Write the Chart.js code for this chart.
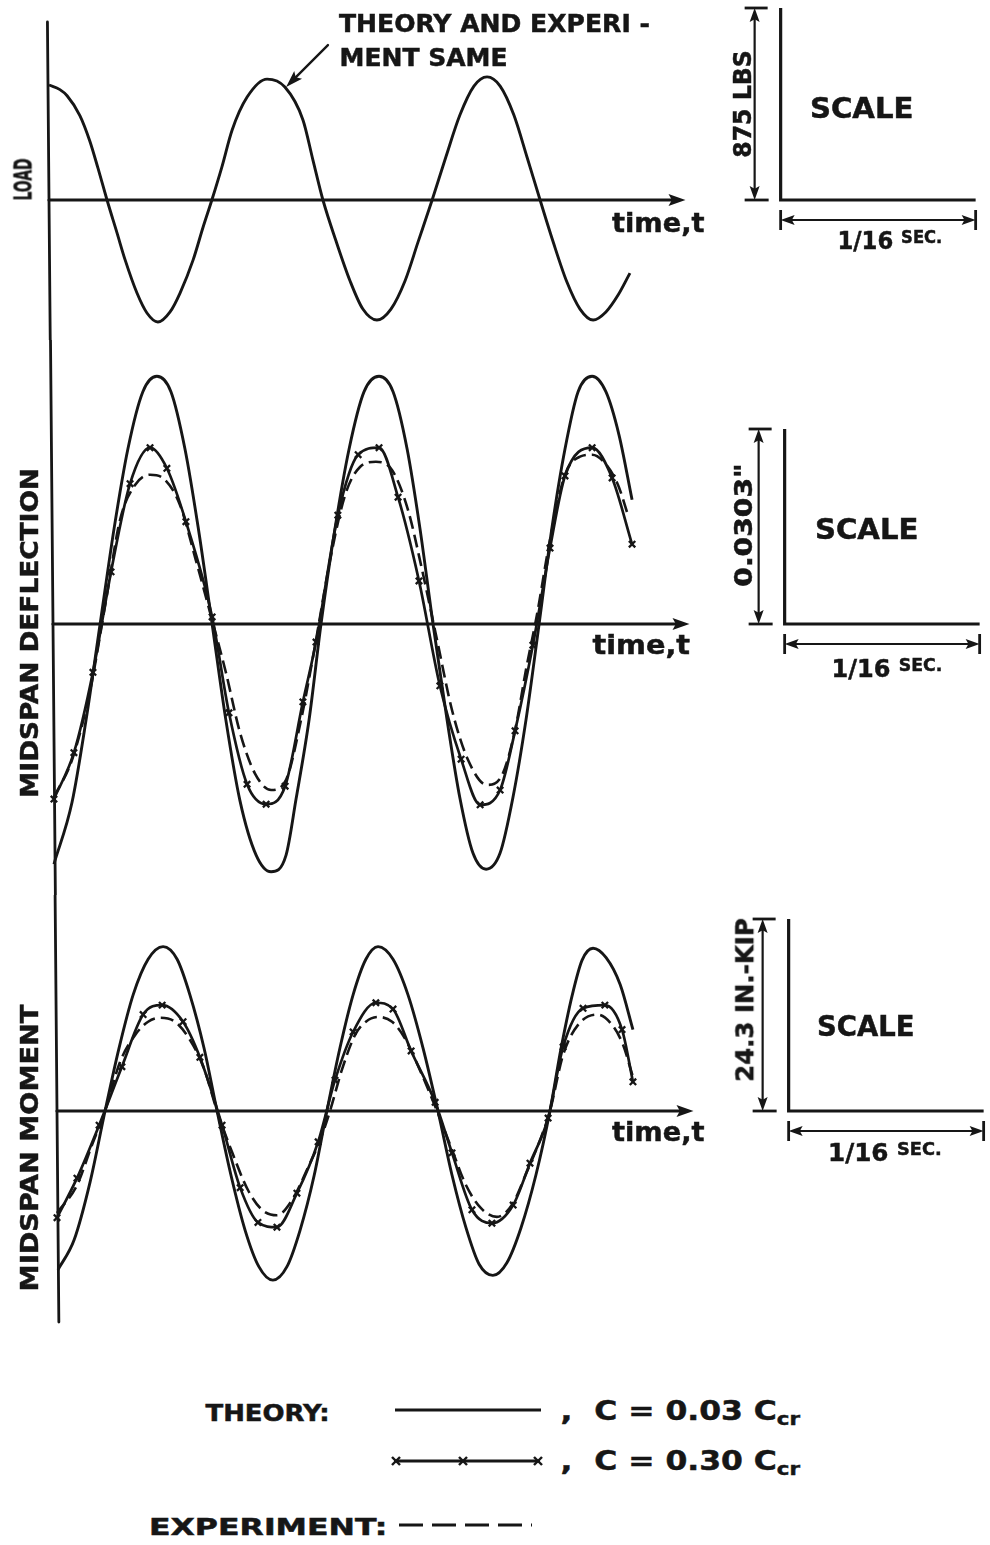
<!DOCTYPE html>
<html>
<head>
<meta charset="utf-8">
<script src="https://cdn.jsdelivr.net/npm/chart.js@4.4.1/dist/chart.umd.min.js"></script>
<style>
html,body{margin:0;padding:0;background:#fff;}
body{width:990px;height:1545px;position:relative;overflow:hidden;}
canvas{position:absolute;left:0;}
.lbl{position:absolute;white-space:nowrap;font-family:"DejaVu Sans Condensed","DejaVu Sans",sans-serif;font-weight:bold;color:#161616;-webkit-text-stroke:0.45px #161616;line-height:1;transform-origin:center center;}
.lbl sub{font-size:0.68em;vertical-align:-0.28em;line-height:0;}
#legend{position:absolute;left:0;top:1380px;}
</style>
</head>
<body>
<canvas id="c1" width="990" height="340" style="top:0px"></canvas>
<canvas id="c2" width="990" height="555" style="top:340px"></canvas>
<canvas id="c3" width="990" height="435" style="top:895px"></canvas>
<svg id="legend" width="990" height="165"></svg>
<script>
// ---------------- DATA ----------------
// time in milliseconds from the vertical axis
// LOAD (lbs) - theory and experiment identical
const loadTime = [0,3.5,5.8,9.9,13.1,15.7,18.6,21.8,24.4,28.2,31.4,34.9,38.8,42.0,46.2,49.4,52.2,55.4,58.7,63.5,69.9,75.6,81.4,84.6,87.8,92.0,96.5,100.6,105.1,109.6,114.1,118.3,122.8,127.2,131.7,136.2,140.4,144.6,149.0,153.2,157.4,161.5,166.0,170.2,174.4,178.5,182.4,186.2];
const loadLbs = [524,503,475,385,268,145,0,-150,-273,-424,-515,-556,-510,-424,-273,-123,0,150,319,469,551,515,365,182,0,-187,-369,-497,-547,-497,-369,-191,0,196,387,519,561,519,387,196,0,-187,-374,-497,-547,-510,-433,-333];

// MIDSPAN DEFLECTION (in)
const deflTheory003Time = [0.3,6.1,10.6,15.1,19.6,24.0,28.8,33.3,37.8,42.3,46.5,51.0,55.4,59.9,65.1,69.9,74.7,77.9,82.1,85.9,90.4,94.9,99.7,104.5,109.0,113.5,117.6,121.8,126.3,130.4,134.6,138.8,143.3,147.4,151.6,155.8,159.9,164.1,168.3,172.8,177.2,181.4,185.6];
const deflTheory003 = [-0.0373,-0.0277,-0.0149,0,0.0149,0.0272,0.0361,0.0385,0.0361,0.0272,0.0151,0,-0.0149,-0.0274,-0.0359,-0.0385,-0.0359,-0.0272,-0.0148,0,0.0149,0.0272,0.0361,0.0385,0.0361,0.0272,0.0149,0,-0.0149,-0.0270,-0.0356,-0.0381,-0.0356,-0.0270,-0.0149,0,0.0149,0.0272,0.0361,0.0385,0.0361,0.0294,0.0193];
const deflTheory030Time = [0.3,6.7,12.8,18.6,24.7,31.1,36.5,42.6,51.0,56.4,62.2,68.3,74.4,80.1,84.3,91.3,97.8,104.5,110.6,117.3,124.0,130.8,136.9,143.3,148.1,153.8,159.3,164.1,172.8,179.2,185.6];
const deflTheory030 = [-0.0272,-0.0200,-0.0075,0.0081,0.0218,0.0274,0.0242,0.0159,0.0011,-0.0138,-0.0249,-0.0280,-0.0252,-0.0121,-0.0028,0.0169,0.0263,0.0274,0.0197,0.0067,-0.0096,-0.0210,-0.0281,-0.0258,-0.0166,-0.0033,0.0118,0.0230,0.0274,0.0227,0.0124];
const deflExpTime = [0.3,6.1,11.9,17.0,21.5,26.3,31.1,35.9,40.7,45.8,51.0,55.4,59.9,64.7,69.9,74.7,79.5,84.0,88.8,93.6,98.4,103.5,108.7,113.8,118.3,123.1,127.9,133.0,139.1,143.9,148.1,151.6,155.1,159.3,164.1,168.9,172.8,176.9,181.1,184.3];
const deflExp = [-0.0269,-0.0211,-0.0103,0.0037,0.0162,0.0216,0.0232,0.0224,0.0185,0.0099,0.0006,-0.0075,-0.0168,-0.0232,-0.0258,-0.0242,-0.0149,-0.0033,0.0099,0.0200,0.0244,0.0252,0.0239,0.0177,0.0084,-0.0025,-0.0134,-0.0211,-0.0250,-0.0235,-0.0165,-0.0071,0.0014,0.0131,0.0232,0.0260,0.0263,0.0250,0.0216,0.0169];

// MIDSPAN MOMENT (in-kip)
const momTheory003Time = [0.3,5.5,10.6,15.4,19.9,24.4,29.2,34.0,38.5,42.6,47.1,51.3,55.8,60.3,64.7,69.2,73.7,77.9,82.4,86.5,90.7,94.9,99.0,102.9,107.7,112.5,117.3,122.1,126.6,131.1,135.3,139.7,144.2,148.7,153.5,158.0,161.5,165.1,168.3,171.8,176.0,180.5,184.6];
const momTheory003 = [-20.1,-16.3,-9.0,0,8.0,14.7,19.2,20.8,19.2,14.7,8.0,0,-8.2,-15.1,-19.7,-21.4,-19.7,-15.1,-8.2,0,8.0,14.7,19.2,20.8,19.2,14.7,8.0,0,-8.1,-14.8,-19.4,-20.8,-19.2,-14.8,-8.1,0,7.8,14.6,19.1,20.6,19.4,16.0,10.3];
const momTheory030Time = [0,6.4,13.5,20.8,27.6,33.7,40.4,45.8,52.9,58.7,64.4,70.5,76.9,83.7,89.1,94.9,102.2,107.7,113.5,121.2,126.6,133.0,139.4,146.2,151.6,157.4,162.2,168.6,175.6,181.1,184.6];
const momTheory030 = [-13.5,-8.5,-1.8,5.6,12.2,13.4,11.3,6.8,-1.8,-9.7,-14.1,-14.7,-10.4,-3.9,3.9,10.0,13.7,12.9,7.6,1.1,-5.3,-12.5,-14.2,-11.9,-6.6,-0.9,8.1,13.0,13.4,10.3,3.7];
const momExpTime = [0,6.4,11.2,15.4,20.2,25.0,29.2,33.0,37.8,42.6,47.1,51.3,56.1,61.2,65.7,70.5,75.3,80.4,84.3,87.5,91.3,95.5,99.0,102.9,107.4,111.5,116.3,121.8,126.6,131.1,135.9,141.0,145.8,150.6,154.8,158.0,162.2,167.0,173.1,177.9,181.4,184.6];
const momExp = [-12.9,-9.4,-4.3,0,6.2,9.6,11.3,11.8,11.3,9.0,5.4,0,-5.2,-10.0,-12.5,-13.2,-11.3,-7.2,-3.7,0,5.2,9.6,11.3,11.9,11.3,9.2,5.2,0,-4.9,-9.4,-12.3,-13.4,-11.9,-7.7,-3.7,0,7.1,10.9,12.2,10.9,8.4,4.3];

// scale bars
const scaleSpanMs = 1000/16;          // 1/16 sec
const loadScaleLbs = 875;
const deflScaleIn = 0.0303;
const momentScaleInKip = 24.3;
const timeAxisEndMs = 204;
const scaleStartMs = 234.5;

// ---------------- LAYOUT ----------------
const INK = '#161616';
const PX_PER_MS = 3.12;
const SLANT = 0.0088;

function pts(t, v){ return t.map((tt,i)=>({x:tt, y:v[i]})); }
function solid(t,v){ return {data:pts(t,v), borderColor:INK, borderWidth:2.9, pointRadius:0, fill:false}; }
function crossed(t,v){ return {data:pts(t,v), borderColor:INK, borderWidth:2.7, pointStyle:'crossRot', pointRadius:4.5, pointBorderWidth:2.3, pointBorderColor:INK, pointBackgroundColor:INK, fill:false}; }
function dashed(t,v){ return {data:pts(t,v), borderColor:INK, borderWidth:2.6, borderDash:[13,6], pointRadius:0, fill:false}; }

function line(ctx,x1,y1,x2,y2){ ctx.beginPath(); ctx.moveTo(x1,y1); ctx.lineTo(x2,y2); ctx.stroke(); }
function head(ctx,x,y,ang,len,half){
  ctx.save(); ctx.translate(x,y); ctx.rotate(ang);
  ctx.beginPath(); ctx.moveTo(0,0); ctx.lineTo(-len,-half); ctx.lineTo(-len*0.8,0); ctx.lineTo(-len,half); ctx.closePath(); ctx.fill();
  ctx.restore();
}

const paperAxes = {
  id:'paperAxes',
  beforeDatasetsDraw(chart, args, o){
    const ctx = chart.ctx, xs = chart.scales.x, ys = chart.scales.y;
    ctx.save();
    ctx.strokeStyle = INK; ctx.fillStyle = INK; ctx.lineCap = 'round';
    const x0 = xs.getPixelForValue(0), yz = ys.getPixelForValue(0);
    // vertical axis (hand drawn, slightly slanted)
    ctx.lineWidth = 2.8;
    line(ctx, x0 - SLANT*(yz - o.axisTop), o.axisTop, x0 + SLANT*(o.axisBottom - yz), o.axisBottom);
    // time axis with arrow
    const xe = xs.getPixelForValue(timeAxisEndMs);
    ctx.lineWidth = 3.2;
    line(ctx, x0, yz, xe - 8, yz);
    head(ctx, xe, yz, 0, 17, 6);
    // scale "L"
    const sx0 = xs.getPixelForValue(scaleStartMs), sx1 = xs.getPixelForValue(scaleStartMs + scaleSpanMs);
    const sy0 = ys.getPixelForValue(0), sy1 = ys.getPixelForValue(o.scaleValue);
    ctx.lineWidth = 3.2; ctx.lineCap = 'butt';
    ctx.beginPath(); ctx.moveTo(sx0, sy1); ctx.lineTo(sx0, sy0); ctx.lineTo(sx1, sy0); ctx.stroke();
    // vertical dimension
    const dx = sx0 - 26;
    ctx.lineWidth = 2.2;
    line(ctx, dx, sy1 + 8, dx, sy0 - 8);
    head(ctx, dx, sy1, -Math.PI/2, 14, 5);
    head(ctx, dx, sy0, Math.PI/2, 14, 5);
    ctx.lineWidth = 2.8;
    line(ctx, dx - 10, sy1, dx + 13, sy1);
    line(ctx, dx - 10, sy0, dx + 14, sy0);
    // horizontal dimension
    const dy = sy0 + 20;
    ctx.lineWidth = 2.2;
    line(ctx, sx0 + 8, dy, sx1 - 8, dy);
    head(ctx, sx0, dy, Math.PI, 14, 5);
    head(ctx, sx1, dy, 0, 14, 5);
    ctx.lineWidth = 2.8;
    line(ctx, sx0, dy - 10, sx0, dy + 10);
    line(ctx, sx1, dy - 10, sx1, dy + 10);
    // pointer arrow of the note (load panel)
    if (o.note){
      const tx = xs.getPixelForValue(o.note.tail[0]), ty = ys.getPixelForValue(o.note.tail[1]);
      const hx = xs.getPixelForValue(o.note.tip[0]), hy = ys.getPixelForValue(o.note.tip[1]);
      ctx.lineWidth = 2.4; ctx.lineCap = 'round';
      const ang = Math.atan2(hy - ty, hx - tx);
      line(ctx, tx, ty, hx - 10*Math.cos(ang), hy - 10*Math.sin(ang));
      head(ctx, hx, hy, ang, 17, 5.5);
    }
    ctx.restore();
  }
};

const panels = [
  {id:'c1', top:0, height:340, x0:49, y0:200, unitsPerPx:loadScaleLbs/192, scaleValue:loadScaleLbs, axisTop:22, axisBottom:340,
   note:{tail:[89.4,706], tip:[76.0,515]},
   datasets:[solid(loadTime, loadLbs)]},
  {id:'c2', top:340, height:555, x0:53, y0:624, unitsPerPx:deflScaleIn/195, scaleValue:deflScaleIn, axisTop:0, axisBottom:555,
   datasets:[solid(deflTheory003Time, deflTheory003), crossed(deflTheory030Time, deflTheory030), dashed(deflExpTime, deflExp)]},
  {id:'c3', top:895, height:435, x0:57, y0:1111, unitsPerPx:momentScaleInKip/192, scaleValue:momentScaleInKip, axisTop:0, axisBottom:427,
   datasets:[solid(momTheory003Time, momTheory003), crossed(momTheory030Time, momTheory030), dashed(momExpTime, momExp)]}
];

panels.forEach(p=>{
  const xMin = -p.x0/PX_PER_MS, xMax = (990 - p.x0)/PX_PER_MS;
  const yMax = (p.y0 - p.top)*p.unitsPerPx, yMin = -(p.top + p.height - p.y0)*p.unitsPerPx;
  new Chart(document.getElementById(p.id), {
    type:'line',
    data:{datasets:p.datasets},
    options:{
      responsive:false, animation:false, devicePixelRatio:1,
      layout:{padding:0, autoPadding:false},
      elements:{line:{cubicInterpolationMode:'monotone'}},
      scales:{
        x:{type:'linear', min:xMin, max:xMax, display:false},
        y:{type:'linear', min:yMin, max:yMax, display:false}
      },
      plugins:{legend:{display:false}, tooltip:{enabled:false},
        paperAxes:{axisTop:p.axisTop, axisBottom:p.axisBottom, scaleValue:p.scaleValue, note:p.note}}
    },
    plugins:[paperAxes]
  });
});

// ---------------- TEXT ----------------
const sixteenth = '1/16 <span style="font-size:0.72em;position:relative;top:-0.32em">SEC.</span>';
const labels = [
  {html:'THEORY AND EXPERI -', cx:494, cy:23, w:311, fs:25},
  {html:'MENT SAME', cx:423, cy:57, w:168, fs:25},
  {html:'LOAD', cx:23, cy:179, w:42, fs:25, rot:-90},
  {html:'time,t', cx:658, cy:222, w:93, fs:27},
  {html:'SCALE', cx:861, cy:109, w:103, fs:28},
  {html:'875 LBS', cx:743, cy:104, w:107, fs:24, rot:-90},
  {html:sixteenth, cx:890, cy:240, w:105, fs:25},
  {html:'MIDSPAN DEFLECTION', cx:30, cy:633, w:330, fs:24, rot:-90},
  {html:'time,t', cx:641, cy:644, w:98, fs:27},
  {html:'SCALE', cx:866, cy:530, w:103, fs:28},
  {html:'0.0303"', cx:744, cy:525, w:124, fs:24, rot:-90},
  {html:sixteenth, cx:887, cy:668, w:111, fs:25},
  {html:'MIDSPAN MOMENT', cx:30, cy:1148, w:287, fs:24, rot:-90},
  {html:'time,t', cx:658, cy:1131, w:93, fs:27},
  {html:'SCALE', cx:865, cy:1027, w:97, fs:28},
  {html:'24.3 IN.-KIP', cx:745, cy:1000, w:164, fs:24, rot:-90},
  {html:sixteenth, cx:885, cy:1152, w:114, fs:25},
  {html:'THEORY:', cx:267, cy:1413, w:124, fs:23},
  {html:',&nbsp; C = 0.03 C<sub>cr</sub>', cx:680, cy:1411, w:240, fs:26},
  {html:',&nbsp; C = 0.30 C<sub>cr</sub>', cx:680, cy:1461, w:240, fs:26},
  {html:'EXPERIMENT:', cx:268, cy:1527, w:238, fs:23}
];
labels.forEach(s=>{
  const d = document.createElement('div');
  d.className = 'lbl'; d.innerHTML = s.html; d.style.fontSize = s.fs + 'px';
  document.body.appendChild(d);
  const w = d.offsetWidth, h = d.offsetHeight;
  const k = s.w ? s.w / w : 1;
  d.style.left = (s.cx - w/2) + 'px';
  d.style.top = (s.cy - h/2) + 'px';
  d.style.transform = 'rotate(' + (s.rot||0) + 'deg) scaleX(' + k + ')';
});

// ---------------- LEGEND SAMPLES ----------------
const NS = 'http://www.w3.org/2000/svg';
const svg = document.getElementById('legend');
function sLine(x1,y1,x2,y2,w,dash){
  const l = document.createElementNS(NS,'line');
  l.setAttribute('x1',x1); l.setAttribute('y1',y1); l.setAttribute('x2',x2); l.setAttribute('y2',y2);
  l.setAttribute('stroke',INK); l.setAttribute('stroke-width',w);
  if (dash) l.setAttribute('stroke-dasharray',dash);
  svg.appendChild(l);
}
sLine(395,30,541,30,3.2);
sLine(394,81,540,81,3.2);
[396,463,538].forEach(x=>{ sLine(x-4,77,x+4,85,2.4); sLine(x-4,85,x+4,77,2.4); });
sLine(399,145,532,145,3.2,'24 9');
</script>
</body>
</html>
